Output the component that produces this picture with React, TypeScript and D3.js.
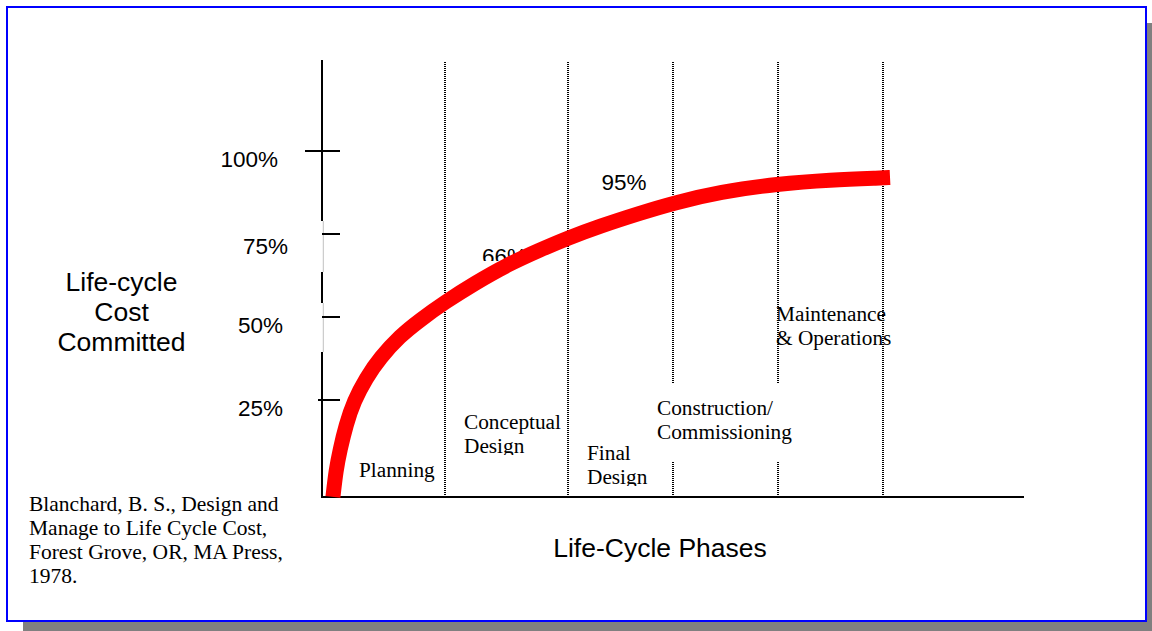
import React from 'react'
import * as d3 from 'd3'

// phases along the x axis (index = phase boundary)
const phaseBounds = [0, 1, 2, 3, 4, 5]
const phaseLabels = [
  ['Planning'],
  ['Conceptual', 'Design'],
  ['Final', 'Design'],
  ['Construction/', 'Commissioning'],
  ['Maintenance', '& Operations'],
]

// y ticks
const yTicks = [25, 50, 75, 100]
const yTickLabels = ['25%', '50%', '75%', '100%']

// the committed-cost curve (phase position, % committed)
const curvePhase = [
  0.089, 0.114, 0.146, 0.195, 0.26, 0.358, 0.472, 0.634, 0.797, 1.0, 1.244, 1.504, 1.772, 2.0, 2.305,
  2.686, 3.0, 3.448, 4.0, 4.495, 5.0, 5.067,
]
const curveCost = [
  -4.2, 3.9, 9.9, 17.5, 24.7, 31.6, 37.7, 44.3, 49.1, 54.5, 60.2, 65.7, 70.2, 73.8, 77.4, 81.3, 84.3,
  87.7, 90.1, 91.3, 91.9, 92.0,
]

// annotations placed on the curve
const noteText = ['66%', '95%']
const notePhase = [1.3, 2.32]
const noteCost = [66, 88.3]

const citation = [
  'Blanchard, B. S., Design and',
  'Manage to Life Cycle Cost,',
  'Forest Grove, OR, MA Press,',
  '1978.',
]
const yTitle = ['Life-cycle', 'Cost', 'Committed']
const xTitle = 'Life-Cycle Phases'

const W = 1152
const H = 631
const SANS = '"Liberation Sans", Arial, sans-serif'
const SERIF = '"Liberation Serif", "Times New Roman", serif'

// layout tweaks (hand placed in the original slide)
const axisTop = 60
const axisBottom = 497
const axisLeft = 322
const axisRight = 1024
const tickInset = [4, 0, 0, 17]
const tickLabelDx = [0, 0, 5, -5]
const tickLabelDy = [0, 0, 4, 0]
const phaseLabelLayout = [
  { dx: 37, y: 477 },
  { dx: 19, y: 429 },
  { dx: 19, y: 460 },
  { dx: -16, y: 415 },
  { dx: -2, y: 321 },
]

const App = () => {
  const x = d3.scaleLinear().domain(phaseBounds).range([axisLeft, 445, 568, 673, 778, 883])
  const y = d3.scaleLinear().domain([0, 100]).range([483, 151])

  const line = d3
    .line<number>()
    .x((d) => x(curvePhase[d]))
    .y((d) => y(curveCost[d]))
    .curve(d3.curveBasis)
  const curvePath = line(curvePhase.map((_, i) => i))

  return (
    <svg
      width={W}
      height={H}
      style={{ position: 'absolute', left: 0, top: 0, display: 'block', background: '#fff' }}
    >
      <defs>
        <clipPath id="clip66">
          <rect x={0} y={0} width={W} height={261} />
        </clipPath>
        <clipPath id="clipConcept">
          <rect x={0} y={0} width={W} height={455} />
        </clipPath>
        <clipPath id="clipFinal">
          <rect x={0} y={0} width={W} height={486} />
        </clipPath>
      </defs>

      {/* slide frame with shadow */}
      <rect x={23} y={23} width={1140} height={614} fill="#808080" />
      <rect x={7} y={7} width={1139} height={614} fill="#fff" stroke="#0000ff" strokeWidth={2} />

      {/* phase dividers */}
      {phaseBounds.slice(1).map((p) => (
        <line
          key={p}
          x1={x(p)}
          x2={x(p)}
          y1={axisTop + 2}
          y2={axisBottom}
          stroke="#000"
          strokeWidth={2}
          strokeDasharray="1,1"
        />
      ))}

      {/* white box behind the construction label */}
      <rect x={650} y={383} width={148} height={79} fill="#fff" />

      {/* axes */}
      <line x1={axisLeft} x2={axisLeft} y1={axisTop} y2={axisBottom} stroke="#000" strokeWidth={2} />
      <rect x={321} y={221} width={3} height={51} fill="#fff" />
      <rect x={321} y={303} width={3} height={49} fill="#fff" />
      <line x1={323.3} x2={323.3} y1={221} y2={272} stroke="#b0b0b0" strokeWidth={0.8} />
      <line x1={323.3} x2={323.3} y1={303} y2={352} stroke="#b0b0b0" strokeWidth={0.8} />
      <line x1={axisLeft - 1} x2={axisRight} y1={axisBottom} y2={axisBottom} stroke="#000" strokeWidth={2} />

      {yTicks.map((t, i) => (
        <g key={t}>
          <line
            x1={axisLeft - tickInset[i]}
            x2={340}
            y1={y(t)}
            y2={y(t)}
            stroke="#000"
            strokeWidth={2}
          />
          <text
            x={283 + tickLabelDx[i]}
            y={y(t) + 16 + tickLabelDy[i]}
            textAnchor="end"
            fontFamily={SANS}
            fontSize={22.5}
            fill="#000"
          >
            {yTickLabels[i]}
          </text>
        </g>
      ))}

      {/* y title */}
      {yTitle.map((s, i) => (
        <text key={s} x={121.5} y={291 + i * 30} textAnchor="middle" fontFamily={SANS} fontSize={26.5}>
          {s}
        </text>
      ))}

      {/* x title */}
      <text x={660} y={557} textAnchor="middle" fontFamily={SANS} fontSize={26.5}>
        {xTitle}
      </text>

      {/* phase labels */}
      {phaseLabels.map((lines, i) => (
        <g key={i} clipPath={i === 1 ? 'url(#clipConcept)' : i === 2 ? 'url(#clipFinal)' : undefined}>
          {lines.map((s, j) => (
            <text
              key={s + j}
              x={x(phaseBounds[i]) + phaseLabelLayout[i].dx}
              y={phaseLabelLayout[i].y + j * 24}
              fontFamily={SERIF}
              fontSize={21.3}
              fill="#000"
            >
              {s}
            </text>
          ))}
        </g>
      ))}

      {/* citation */}
      {citation.map((s, i) => (
        <text key={s} x={29} y={511 + i * 24} fontFamily={SERIF} fontSize={21.5} fill="#000">
          {s}
        </text>
      ))}

      {/* annotations */}
      {noteText.map((s, i) => (
        <text
          key={s}
          x={x(notePhase[i])}
          y={y(noteCost[i])}
          fontFamily={SANS}
          fontSize={22.5}
          fill="#000"
          clipPath={i === 0 ? 'url(#clip66)' : undefined}
        >
          {s}
        </text>
      ))}

      {/* cost committed curve */}
      <path d={curvePath ?? ''} fill="none" stroke="#ff0000" strokeWidth={15} />
    </svg>
  )
}

export default App
